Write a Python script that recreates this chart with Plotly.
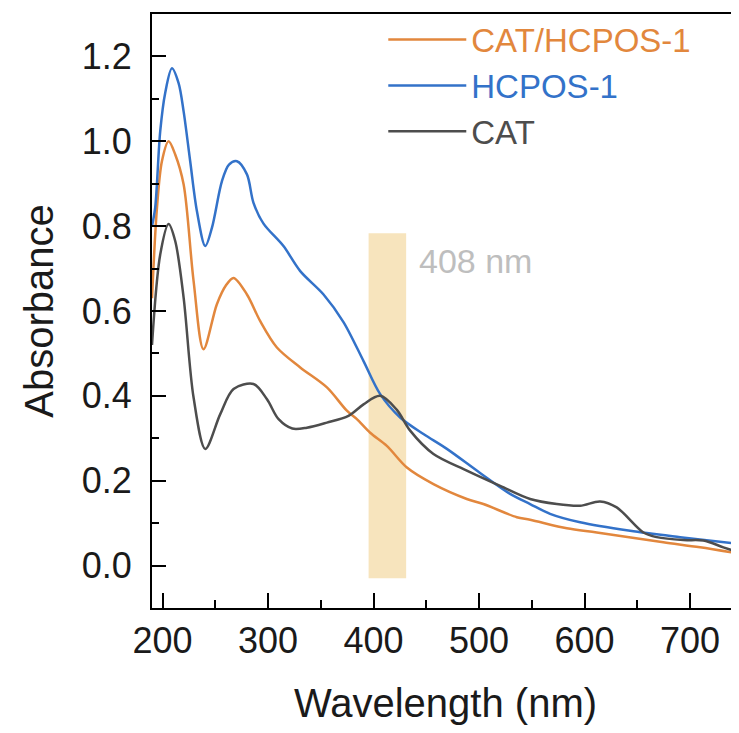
import plotly.graph_objects as go

# ---- data ----
hcpos_wl = [190, 193, 197.8, 202.5, 208.9, 215.2, 220, 226.2, 232.6, 240.5, 246.8, 256.3, 263, 270.5, 280,
            286.2, 295.7, 314.6, 330.5, 352.6, 371.5, 390.5, 406.3, 425.2, 447.3, 469.5, 500, 529.4, 548.4,
            567.3, 595.8, 643.2, 690.6, 746.4]
hcpos_abs = [0.80, 0.843, 1.024, 1.114, 1.172, 1.137, 1.07, 0.953, 0.835, 0.753, 0.796, 0.906, 0.945, 0.953, 0.922,
             0.855, 0.806, 0.753, 0.694, 0.639, 0.574, 0.482, 0.404, 0.349, 0.31, 0.275, 0.22, 0.169, 0.145,
             0.122, 0.102, 0.082, 0.067, 0.051]

cathc_wl = [190, 194.7, 199.4, 205.7, 212, 220, 229.4, 238.8, 251.5, 260, 267.3, 280, 292.6, 308.4, 330.5,
            355.8, 374.7, 384.2, 396.8, 412.6, 431.6, 456.8, 488.4, 504.1, 535.8, 548.4, 583.2, 611.6, 674.7,
            709.5, 746.4]
cathc_abs = [0.63, 0.843, 0.953, 1.0, 0.969, 0.898, 0.671, 0.51, 0.616, 0.66, 0.678, 0.639, 0.576, 0.514, 0.467,
             0.42, 0.365, 0.345, 0.313, 0.282, 0.231, 0.192, 0.157, 0.145, 0.114, 0.108, 0.088, 0.078, 0.055,
             0.043, 0.028]

cat_wl = [190, 197.8, 205.7, 212, 220, 229.4, 240.5, 254.7, 267.3, 286.2, 299, 310, 323, 336.8, 355.8, 376.2,
          390.5, 406.3, 422.1, 434.7, 456.8, 488.4, 520, 548.4, 573.7, 595.8, 614.7, 630.5, 655.8, 668.4, 693.7,
          712.6, 731.6, 746.4]
cat_abs = [0.52, 0.733, 0.805, 0.765, 0.631, 0.396, 0.275, 0.357, 0.416, 0.428, 0.392, 0.345, 0.323, 0.325, 0.337,
           0.353, 0.38, 0.40, 0.367, 0.318, 0.263, 0.224, 0.188, 0.157, 0.145, 0.141, 0.151, 0.137, 0.078, 0.067,
           0.060, 0.059, 0.043, 0.031]

series_names = ["CAT/HCPOS-1", "HCPOS-1", "CAT"]
series_colors = ["#E2873D", "#3372C9", "#4D4D4D"]

band_range = [395.3, 430.9]
band_abs = [-0.03, 0.783]
band_label = "408 nm"

x_tickvals = [200, 300, 400, 500, 600, 700]
y_tickvals = [0.0, 0.2, 0.4, 0.6, 0.8, 1.0, 1.2]

FONT = "Liberation Sans, Arial, sans-serif"

fig = go.Figure()

fig.add_shape(type="rect", xref="x", yref="y", x0=band_range[0], x1=band_range[1],
              y0=band_abs[0], y1=band_abs[1], fillcolor="#F7E4BD", line=dict(width=0), layer="below")

data = [(cathc_wl, cathc_abs), (hcpos_wl, hcpos_abs), (cat_wl, cat_abs)]
for (xs, ys), name, col in zip(data, series_names, series_colors):
    fig.add_trace(go.Scatter(
        x=xs, y=ys, mode="lines", line=dict(color=col, width=2.5, shape="spline", smoothing=0.9),
        name=f"<span style='color:{col}'>{name}</span>"))

fig.add_annotation(x=441, y=0.719, xref="x", yref="y", text=band_label, showarrow=False,
                   xanchor="left", yanchor="middle", font=dict(family=FONT, size=34, color="#BEBEBE"))

# page body adds an 8px margin, so the figure is 8px smaller and margins are shifted
fig.update_layout(
    width=731, height=725,
    margin=dict(l=144, r=0, t=6, b=125),
    paper_bgcolor="white", plot_bgcolor="white",
    font=dict(family=FONT, color="#1a1a1a"),
    showlegend=True,
    legend=dict(x=0.394, y=1.004, xanchor="left", yanchor="top", bgcolor="rgba(0,0,0,0)",
                font=dict(family=FONT, size=33), tracegroupgap=0, itemwidth=78),
    xaxis=dict(range=[190, 746.4], tickvals=x_tickvals, ticks="inside", ticklen=15, tickwidth=2,
               tickcolor="black", showline=True, linecolor="black", linewidth=2, mirror=True,
               showgrid=False, zeroline=False, tickfont=dict(family=FONT, size=36, color="#1a1a1a"),
               automargin=False,
               minor=dict(dtick=50, tick0=0, ticks="inside", ticklen=8, tickwidth=2, tickcolor="black", showgrid=False),
               title=dict(text="Wavelength (nm)", font=dict(family=FONT, size=40, color="#1a1a1a"), standoff=29)),
    yaxis=dict(range=[-0.1, 1.3], tickvals=y_tickvals, tickformat=".1f", ticks="inside", ticklen=14, tickwidth=2,
               tickcolor="black", showline=True, linecolor="black", linewidth=2, mirror=False,
               showgrid=False, zeroline=False, tickfont=dict(family=FONT, size=36, color="#1a1a1a"),
               ticklabelstandoff=11, automargin=False,
               minor=dict(dtick=0.1, tick0=0, ticks="inside", ticklen=7, tickwidth=2, tickcolor="black", showgrid=False),
               title=dict(text="Absorbance", font=dict(family=FONT, size=40, color="#1a1a1a"), standoff=16)),
)

fig.write_html("out.html")
